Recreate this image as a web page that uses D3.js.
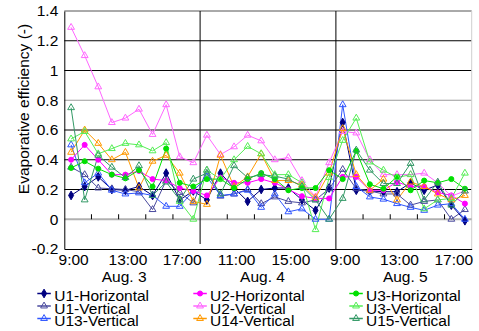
<!DOCTYPE html>
<html>
<head>
<meta charset="utf-8">
<script src="https://cdn.jsdelivr.net/npm/d3@7"></script>
<style>
  body { margin: 0; background: #fff; }
  text { font-family: "Liberation Sans", Arial, sans-serif; fill: #000; }
</style>
</head>
<body>
<svg id="chart" width="479" height="331"></svg>
<script>
// Hourly readings, 9:00-18:00, on three consecutive days
const hours = ["9:00","10:00","11:00","12:00","13:00","14:00","15:00","16:00","17:00","18:00"];
const days = ["Aug. 3", "Aug. 4", "Aug. 5"];
const categories = days.flatMap(d => hours.map(h => d + " " + h));

const yTicks = [-0.2, 0, 0.2, 0.4, 0.6, 0.8, 1.0, 1.2, 1.4];

// Evaporative efficiency per unit and orientation
const u1Horizontal = [0.16,0.22,0.285,0.20,0.195,0.22,0.16,0.31,0.13,0.19,
                      0.13,0.31,0.21,0.12,0.20,0.21,0.21,0.13,0.06,0.21,
                      0.65,0.195,0.19,0.185,0.185,0.245,0.195,0.23,0.095,-0.01];
const u1Vertical   = [0.35,0.30,0.21,0.205,0.20,0.185,0.065,0.26,0.18,0.11,
                      0.33,0.155,0.17,0.20,0.105,0.15,0.12,0.11,0.13,0.205,
                      0.335,0.205,0.19,0.17,0.17,0.095,0.12,0.13,0.0,0.065];
const u13Vertical  = [0.50,0.245,0.31,0.195,0.17,0.177,0.16,0.087,0.087,0.19,
                      0.285,0.16,0.17,0.195,0.08,0.17,0.05,0.07,0.0,0.0,
                      0.77,0.22,0.15,0.135,0.105,0.08,0.06,0.095,0.105,0.0];
const u2Horizontal = [0.40,0.50,0.40,0.30,0.30,0.325,0.27,0.26,0.21,0.19,
                      0.16,0.28,0.245,0.245,0.27,0.245,0.20,0.155,0.14,0.14,
                      0.285,0.285,0.195,0.195,0.25,0.22,0.22,0.18,0.16,0.105];
const u2Vertical   = [1.29,1.10,0.89,0.65,0.68,0.74,0.57,0.77,0.42,0.38,
                      0.565,0.435,0.487,0.565,0.527,0.40,0.415,0.26,0.15,0.38,
                      0.59,0.58,0.40,0.30,0.30,0.30,0.31,0.245,0.155,0.19];
const u14Vertical  = [0.45,0.60,0.51,0.40,0.45,0.21,0.39,0.43,0.31,0.12,
                      0.10,0.43,0.22,0.285,0.44,0.26,0.26,0.23,0.145,0.31,
                      0.61,0.30,0.195,0.27,0.13,0.25,0.22,0.17,0.13,0.16];
const u3Horizontal = [0.345,0.39,0.34,0.30,0.275,0.33,0.22,0.475,0.245,0.22,
                      0.27,0.27,0.21,0.27,0.31,0.27,0.195,0.21,0.21,0.33,
                      0.27,0.46,0.235,0.205,0.285,0.195,0.26,0.245,0.27,0.205];
const u3Vertical   = [0.54,0.59,0.44,0.475,0.51,0.50,0.46,0.515,0.12,0.0,
                      0.33,0.27,0.40,0.49,0.44,0.30,0.30,0.245,-0.07,0.28,
                      0.53,0.68,0.385,0.33,0.28,0.30,0.07,0.13,0.14,0.31];
const u15Vertical  = [0.75,0.13,0.43,0.35,0.28,0.36,0.16,0.25,0.13,0.27,
                      0.31,0.17,0.36,0.28,0.30,0.29,0.27,0.22,0.13,0.0,
                      0.14,0.465,0.33,0.24,0.24,0.375,0.13,0.25,0.095,0.19];

const seriesNames = ["U1-Horizontal","U1-Vertical","U13-Vertical",
                     "U2-Horizontal","U2-Vertical","U14-Vertical",
                     "U3-Horizontal","U3-Vertical","U15-Vertical"];
const seriesValues = [u1Horizontal, u1Vertical, u13Vertical,
                      u2Horizontal, u2Vertical, u14Vertical,
                      u3Horizontal, u3Vertical, u15Vertical];

// Line colour, marker shape and whether the marker is solid
const styles = [
  { color: "#000080", shape: d3.symbolDiamond,  filled: true,  size: 22 },
  { color: "#4a4a9e", shape: d3.symbolTriangle, filled: false, size: 20 },
  { color: "#2f55ff", shape: d3.symbolTriangle, filled: false, size: 20 },
  { color: "#ff00ff", shape: d3.symbolCircle,   filled: true,  size: 20 },
  { color: "#ff66ff", shape: d3.symbolTriangle, filled: false, size: 20 },
  { color: "#ff9900", shape: d3.symbolTriangle, filled: false, size: 20 },
  { color: "#00e000", shape: d3.symbolCircle,   filled: true,  size: 20 },
  { color: "#55ee55", shape: d3.symbolTriangle, filled: false, size: 20 },
  { color: "#339966", shape: d3.symbolTriangle, filled: false, size: 20 }
];

const svg = d3.select("#chart");
const FONT = 15.5;

const plot = { left: 64.3, right: 471.7, top: 11, bottom: 249 };

const x = d3.scalePoint().domain(categories).range([plot.left, plot.right]).padding(0.5);
const y = d3.scaleLinear().domain([-0.2, 1.4]).range([plot.bottom, plot.top]);
const step = x.step();

// Horizontal grid lines
const gridVals = yTicks.filter(v => v > 0 && v < 1.4);
svg.append("g").selectAll("line").data(gridVals).join("line")
  .attr("x1", plot.left).attr("x2", plot.right)
  .attr("y1", d => y(d)).attr("y2", d => y(d))
  .attr("stroke", d => Math.abs(d - 0.8) < 1e-9 ? "#9a9a9a" : "#000")
  .attr("stroke-width", 1);

// Plot frame: top and right edges
svg.append("line").attr("x1", plot.left).attr("x2", plot.right)
  .attr("y1", y(1.4)).attr("y2", y(1.4)).attr("stroke", "#555").attr("stroke-width", 1);
svg.append("line").attr("x1", plot.right).attr("x2", plot.right)
  .attr("y1", plot.top).attr("y2", plot.bottom).attr("stroke", "#cfcfcf").attr("stroke-width", 1);

// Zero line
svg.append("line").attr("x1", plot.left).attr("x2", plot.right)
  .attr("y1", y(0)).attr("y2", y(0)).attr("stroke", "#b0b0b0").attr("stroke-width", 2);

// Small tick marks between every second hour, rising from the zero line
const minorIdx = d3.range(categories.length - 1).filter(i => i % 10 !== 9 && i % 2 === 1);
svg.append("g").selectAll("line").data(minorIdx).join("line")
  .attr("x1", i => x(categories[i]) + step / 2).attr("x2", i => x(categories[i]) + step / 2)
  .attr("y1", y(0) - 5).attr("y2", y(0))
  .attr("stroke", "#000").attr("stroke-width", 1);

// Day separators
const sepIdx = [9, 19];
svg.append("g").selectAll("line").data(sepIdx).join("line")
  .attr("x1", i => x(categories[i]) + step / 2).attr("x2", i => x(categories[i]) + step / 2)
  .attr("y1", plot.top).attr("y2", (i, k) => k === 0 ? plot.bottom - 5 : plot.bottom)
  .attr("stroke", "#000").attr("stroke-width", 1);

// Axes
const yAxis = d3.axisLeft(y).tickValues(yTicks).tickSize(0).tickPadding(6)
  .tickFormat(d => String(+d.toFixed(1)));
const gy = svg.append("g").attr("transform", `translate(${plot.left},0)`).call(yAxis);
gy.select(".domain").attr("stroke", "#000").attr("stroke-width", 1);
gy.selectAll("text").style("font-size", FONT + "px").style("font-family", "Liberation Sans, Arial, sans-serif");

const xAxis = d3.axisBottom(x).tickValues(categories.filter((d, i) => i % 4 === 0))
  .tickSize(0).tickPadding(5).tickSizeOuter(0)
  .tickFormat(d => d.split(" ").pop());
const gx = svg.append("g").attr("transform", `translate(0,${plot.bottom})`).call(xAxis);
gx.select(".domain").attr("stroke", "#000").attr("stroke-width", 1);
gx.selectAll("text").attr("dx", 2).style("font-size", FONT + "px").style("font-family", "Liberation Sans, Arial, sans-serif");

// Day labels under the hour labels
const dayNudge = [-8, -5.5, 1.5];
svg.append("g").selectAll("text").data(days).join("text")
  .attr("x", (d, i) => (x(categories[i * 10]) + x(categories[i * 10 + 9])) / 2 + dayNudge[i])
  .attr("y", 282)
  .attr("text-anchor", "middle")
  .style("font-size", FONT + "px")
  .text(d => d);

// Y axis title
svg.append("text")
  .attr("transform", `translate(29,${(plot.top + plot.bottom) / 2 - 21}) rotate(-90)`)
  .attr("text-anchor", "middle")
  .style("font-size", FONT + "px")
  .text("Evaporative efficiency (-)");

// Series lines and markers
const line = d3.line().x((d, i) => x(categories[i])).y(d => y(d));
const gSeries = svg.append("g");
seriesValues.forEach((vals, s) => {
  const st = styles[s];
  gSeries.append("path").datum(vals)
    .attr("d", line).attr("fill", "none")
    .attr("stroke", st.color).attr("stroke-width", 1);
});
seriesValues.forEach((vals, s) => {
  const st = styles[s];
  const sym = d3.symbol().type(st.shape).size(st.size);
  gSeries.append("g").selectAll("path").data(vals).join("path")
    .attr("transform", (d, i) => `translate(${x(categories[i])},${y(d)})`)
    .attr("d", sym)
    .attr("fill", st.filled ? st.color : "none")
    .attr("stroke", st.color).attr("stroke-width", 1);
});

// Legend: three columns of three entries
const legCols = [{ lx: 37.3, tx: 54.3 }, { lx: 193.3, tx: 210 }, { lx: 349.3, tx: 366 }];
const legRows = [301, 313.5, 326];
const legend = svg.append("g");
seriesNames.forEach((name, s) => {
  const c = legCols[Math.floor(s / 3)], r = legRows[s % 3];
  const st = styles[s];
  const ly = r - 7.5;
  legend.append("line").attr("x1", c.lx).attr("x2", c.lx + 13.5)
    .attr("y1", ly).attr("y2", ly).attr("stroke", st.color).attr("stroke-width", 1.5);
  legend.append("path")
    .attr("transform", `translate(${c.lx + 6.75},${ly})`)
    .attr("d", d3.symbol().type(st.shape).size(st.size)())
    .attr("fill", st.filled ? st.color : "none")
    .attr("stroke", st.color).attr("stroke-width", 1);
  legend.append("text").attr("x", c.tx).attr("y", r)
    .style("font-size", FONT + "px").text(name);
});
</script>
</body>
</html>
